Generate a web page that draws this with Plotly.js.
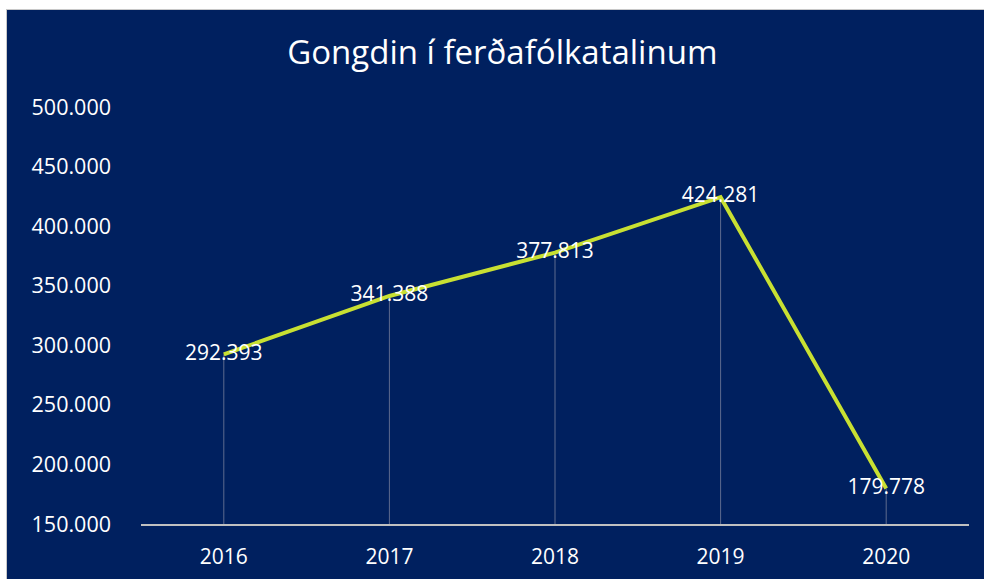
<!DOCTYPE html>
<html>
<head>
<meta charset="utf-8">
<script src="https://cdn.plot.ly/plotly-3.0.1.min.js"></script>
<style>
  html, body { margin: 0; padding: 0; background: #ffffff; width: 984px; height: 579px; overflow: hidden; }
  #chart { position: absolute; left: 7px; top: 10px; width: 977px; height: 569px; }
  #frame { position: absolute; left: 6px; top: 9px; width: 978px; height: 570px; border-left: 1px solid #c8c8c8; border-top: 1px solid #c8c8c8; box-sizing: border-box; }
</style>
</head>
<body>
<div id="frame"></div>
<div id="chart"></div>
<script>
const years = ['2016', '2017', '2018', '2019', '2020'];
const visitors = [292393, 341388, 377813, 424281, 179778];
const valueLabels = ['292.393', '341.388', '377.813', '424.281', '179.778'];
const yTickValues = [150000, 200000, 250000, 300000, 350000, 400000, 450000, 500000];
const yTickLabels = ['150.000', '200.000', '250.000', '300.000', '350.000', '400.000', '450.000', '500.000'];
const axisFloor = 150000;

const navy = '#00205F';
const fontFamily = '"Open Sans", "Noto Sans", sans-serif';

const dropLengths = visitors.map(v => v - axisFloor);
const zeros = visitors.map(() => 0);

const dropTrace = {
  x: years,
  y: visitors,
  type: 'scatter',
  mode: 'markers',
  marker: { size: 1, color: 'rgba(0,0,0,0)' },
  error_y: {
    type: 'data',
    symmetric: false,
    array: zeros,
    arrayminus: dropLengths,
    color: '#5D6B8F',
    thickness: 1,
    width: 0
  },
  hoverinfo: 'skip',
  showlegend: false
};

const lineTrace = {
  x: years,
  y: visitors,
  type: 'scatter',
  mode: 'lines',
  line: { color: '#C8E032', width: 4 },
  showlegend: false
};

const labelTrace = {
  x: years,
  y: visitors,
  type: 'scatter',
  mode: 'text',
  text: valueLabels,
  textposition: 'middle center',
  textfont: { color: '#ffffff', size: 21, family: fontFamily },
  showlegend: false,
  hoverinfo: 'skip'
};

const layout = {
  width: 977,
  height: 569,
  paper_bgcolor: navy,
  plot_bgcolor: navy,
  margin: { l: 134, r: 15, t: 97, b: 55 },
  font: { family: fontFamily, color: '#ffffff', size: 21 },
  title: {
    text: 'Gongdin í ferðafólkatalinum',
    font: { size: 33, color: '#ffffff', family: fontFamily },
    x: 0.507,
    xref: 'container',
    xanchor: 'center',
    y: 0.925,
    yref: 'container',
    yanchor: 'middle'
  },
  xaxis: {
    type: 'category',
    range: [-0.5, 4.5],
    showgrid: false,
    zeroline: false,
    showline: true,
    linecolor: '#C0C0C0',
    linewidth: 2,
    ticks: '',
    ticklabelstandoff: 13,
    tickfont: { size: 21, color: '#ffffff', family: fontFamily },
    fixedrange: true
  },
  yaxis: {
    range: [150000, 500000],
    tickvals: yTickValues,
    ticktext: yTickLabels,
    showgrid: false,
    zeroline: false,
    showline: false,
    ticks: '',
    ticklabelstandoff: 29,
    tickfont: { size: 21.5, color: '#ffffff', family: fontFamily },
    fixedrange: true
  },
  showlegend: false
};

Plotly.newPlot('chart', [dropTrace, lineTrace, labelTrace], layout, { displayModeBar: false, staticPlot: true });
</script>
</body>
</html>
